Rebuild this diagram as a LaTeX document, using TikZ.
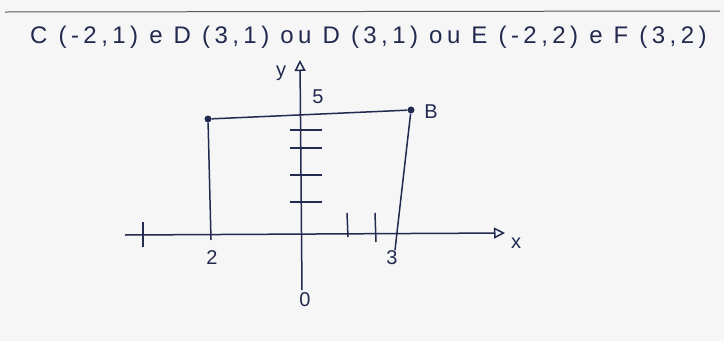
\documentclass[tikz,border=0pt]{standalone}
\usepackage{fontspec}
\setmainfont{Liberation Sans}
\usetikzlibrary{arrows.meta}
\definecolor{paper}{HTML}{F6F6F6}
\definecolor{ink}{HTML}{222A50}
\begin{document}
\begin{tikzpicture}[
    x=1pt, y=-1pt,
    ink line/.style={
        draw=ink,
        line width=1.5pt
    },
    dot/.style={
        circle,
        fill=ink,
        minimum size=7pt,
        inner sep=0pt
    },
    lbl/.style={
        text=ink,
        font=\fontsize{20}{22}\selectfont,
        inner sep=0pt
    },
    >={Triangle[open,length=11pt,width=11pt]}
]

% Papier
\fill[paper] (0,0) rectangle (724,341);
\useasboundingbox (0,0) rectangle (724,341);
\draw[gray!70!black, line width=1pt] (5,12) -- (720,11);

% Titel
\node[lbl, font=\fontsize{24}{26}\selectfont\addfontfeature{LetterSpace=18.5},
    anchor=west] (titel) at (30,37)
    {C (-2,1) e D (3,1) ou D (3,1) ou E (-2,2) e F (3,2)};

% Assen
\coordinate (xlinks) at (125,235);
\coordinate (xtop) at (505,233);
\coordinate (yonder) at (302,290);
\coordinate (ytop) at (300,60);
\draw[ink line, ->] (xlinks) -- (xtop);
\draw[ink line, ->] (yonder) -- (ytop);

% Punten
\node[dot] (C) at (208,119) {};
\node[dot] (B) at (411,110) {};
\coordinate (Cvoet) at (211,240);
\coordinate (Bvoet) at (395,250);
\draw[ink line] (C) -- (B);
\draw[ink line] (C) -- (Cvoet);
\draw[ink line] (B) -- (Bvoet);

% Streepjes
\foreach \y in {130,148,175,202}
    \draw[ink line] (290,\y) -- (322,\y);
\draw[ink line] (347,213) -- (348,237);
\draw[ink line] (375,213) -- (376,242);
\draw[ink line] (143,222) -- (143,247);

% Labels
\node[lbl] (ylbl) at (281,73) {y};
\node[lbl] (xlbl) at (516,243) {x};
\node[lbl] (vijf) at (318,97) {5};
\node[lbl] (Blbl) at (431,112) {B};
\node[lbl] (twee) at (212,258) {2};
\node[lbl] (drie) at (392,258) {3};
\node[lbl] (nul) at (305,300) {0};

\end{tikzpicture}
\end{document}
